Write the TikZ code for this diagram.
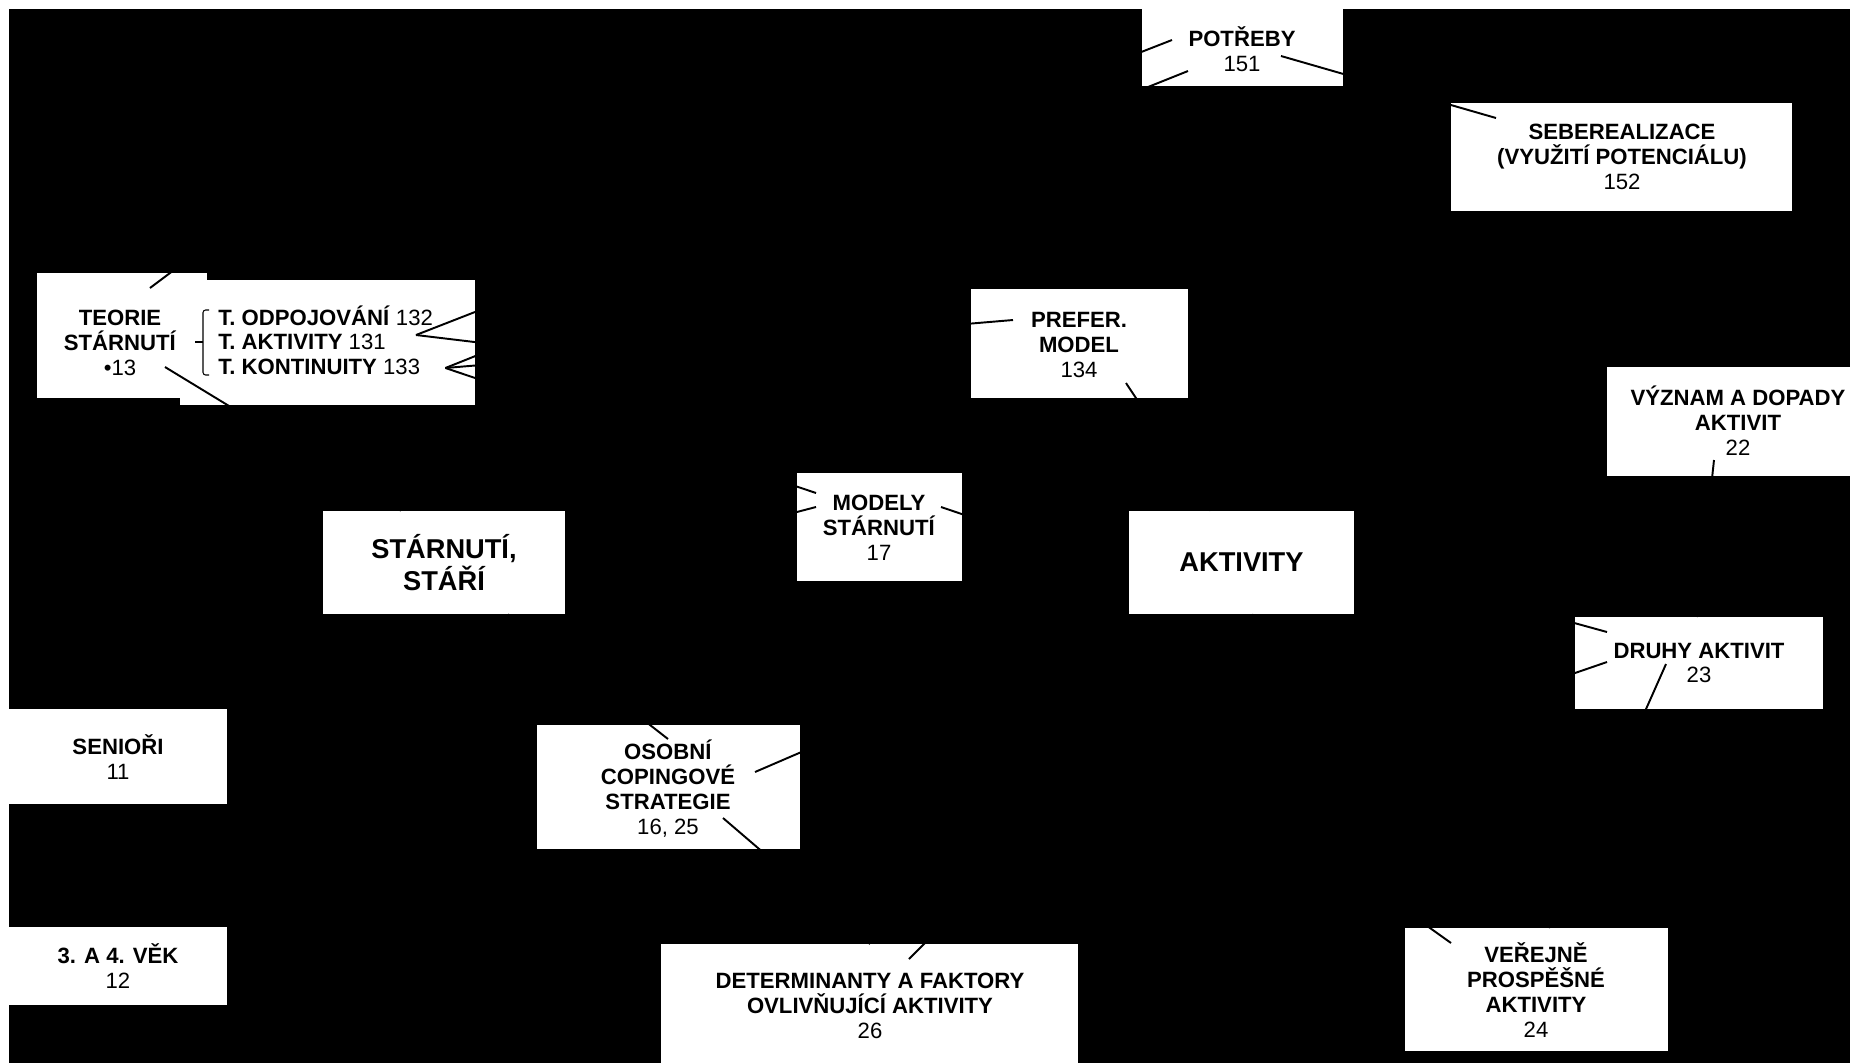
\documentclass[tikz,border=0pt]{standalone}
\usepackage{fontspec}
\setmainfont{Liberation Sans}
\newcommand\labelfont{\fontsize{12.6}{14.2}\selectfont}
\newcommand\hubfont{\fontsize{15.5}{18}\selectfont\bfseries}

\begin{document}
\begin{tikzpicture}[x=0.02cm, y=-0.02cm,
  box/.style={fill=white},
  lbl/.style={align=center, font=\labelfont, inner sep=0pt},
  row/.style={lbl, anchor=west, text height=9pt, text depth=0pt},
  hub/.style={fill=white, align=center, font=\hubfont, minimum height=2.06cm},
  link/.style={line width=1.1pt}]
  \useasboundingbox (0,0) rectangle (1850,1063);
  \fill[white] (0,0) rectangle (1850,1063);
  \fill[black] (9,9) rectangle (1850,1063);

  % white boxes behind the labels
  \fill[box] (1142,9) rectangle (1343,86);
  \fill[box] (1451,103) rectangle (1792,211);
  \fill[box] (37,273) rectangle (207,398);
  \fill[box] (180,280) rectangle (475,405);
  \fill[box] (971,289) rectangle (1188,398);
  \fill[box] (1607,367) rectangle (1850,476);
  \fill[box] (797,473) rectangle (962,581);
  \fill[box] (1575,617) rectangle (1823,709);
  \fill[box] (9,709) rectangle (227,804);
  \fill[box] (537,725) rectangle (800,849);
  \fill[box] (9,927) rectangle (227,1005);
  \fill[box] (661,944) rectangle (1078,1063);
  \fill[box] (1405,928) rectangle (1668,1051);

  % labels
  \node[lbl] (potreby) at (1242,49) {\textbf{POTŘEBY}\\151};
  \node[lbl] (seber) at (1622,157) {\textbf{SEBEREALIZACE}\\\textbf{(VYUŽITÍ POTENCIÁLU)}\\152};
  \node[lbl] (teorie) at (120,343) {\textbf{TEORIE}\\\textbf{STÁRNUTÍ}\\•13};
  \node[row] (todp) at (218,318) {\textbf{T. ODPOJOVÁNÍ} 132};
  \node[row] (takt) at (218,342) {\textbf{T. AKTIVITY} 131};
  \node[row] (tkont) at (218,367) {\textbf{T. KONTINUITY} 133};
  \node[lbl] (prefer) at (1079,345) {\textbf{PREFER.}\\\textbf{MODEL}\\134};
  \node[lbl] (vyznam) at (1738,421) {\textbf{VÝZNAM A DOPADY}\\\textbf{AKTIVIT}\\22};
  \node[lbl] (modely) at (879,528) {\textbf{MODELY}\\\textbf{STÁRNUTÍ}\\17};
  \node[lbl] (druhy) at (1699,663) {\textbf{DRUHY AKTIVIT}\\23};
  \node[lbl] (seniori) at (118,757) {\textbf{SENIOŘI}\\11};
  \node[lbl] (osobni) at (668,789) {\textbf{OSOBNÍ}\\\textbf{COPINGOVÉ}\\\textbf{STRATEGIE}\\16, 25};
  \node[lbl] (vek) at (118,966) {\textbf{3. A 4. VĚK}\\12};
  \node[lbl] (determ) at (870,1006) {\textbf{DETERMINANTY A FAKTORY}\\\textbf{OVLIVŇUJÍCÍ AKTIVITY}\\26};
  \node[lbl] (verejne) at (1536,990) {\textbf{VEŘEJNĚ}\\\textbf{PROSPĚŠNÉ}\\\textbf{AKTIVITY}\\24};

  % brace of the theories
  \draw[line width=0.6pt, rounded corners=1.5] (209,310) -- (203,310) -- (203,375) -- (209,375);
  \draw[line width=0.6pt] (203,342) -- (195,342);

  \node[hub, minimum width=4.84cm] (starnuti) at (444,562.5) {STÁRNUTÍ,\\STÁŘÍ};
  \node[hub, minimum width=4.5cm] (aktivity) at (1241.5,562.5) {AKTIVITY};

  % free ends
  \coordinate (taktOut) at (900,393);
  \coordinate (teorieOut) at (330,153);
  \coordinate (druhyOut) at (1287,772);
  \coordinate (verejneOut) at (1199,763);

  % connectors
  \draw[link] ([shift={(30,-7)}]takt.east) -- ([shift={(-70,-9)}]potreby.center);
  \draw[link] ([shift={(30,-7)}]takt.east) -- (taktOut);
  \draw[link] ([shift={(25,1)}]tkont.east) -- ([shift={(-54,22)}]potreby.center);
  \draw[link] ([shift={(25,1)}]tkont.east) -- ([shift={(-66,-25)}]prefer.center);
  \draw[link] ([shift={(25,1)}]tkont.east) -- ([shift={(-63,-35)}]modely.center);
  \draw[link] ([shift={(39,7)}]potreby.center) -- ([shift={(-126,-39)}]seber.center);
  \draw[link] ([shift={(30,-55)}]teorie.center) -- (teorieOut);
  \draw[link] ([shift={(45,24)}]teorie.center) -- ([shift={(-43,0)}]starnuti.north);
  \draw[link] ([shift={(-63,-21)}]modely.center) -- ([shift={(0,10)}]starnuti.east);
  \draw[link] ([shift={(62,-21)}]modely.center) -- ([shift={(0,8)}]aktivity.west);
  \draw[link] ([shift={(47,38)}]prefer.center) -- ([shift={(-31,0)}]aktivity.north);
  \draw[link] ([shift={(0,-50)}]osobni.center) -- ([shift={(64,0)}]starnuti.south);
  \draw[link] ([shift={(87,-17)}]osobni.center) -- (aktivity);
  \draw[link] ([shift={(55,29)}]osobni.center) -- ([shift={(0,-62)}]determ.center);
  \draw[link] ([shift={(39,-47)}]determ.center) -- ([shift={(12,0)}]aktivity.south);
  \draw[link] ([shift={(-92,-31)}]druhy.center) -- (aktivity.east);
  \draw[link] ([shift={(-92,-1)}]druhy.center) -- (druhyOut);
  \draw[link] ([shift={(-33,1)}]druhy.center) -- ([shift={(13,-62)}]verejne.center);
  \draw[link] ([shift={(-85,-47)}]verejne.center) -- (verejneOut);
  \draw[link] ([shift={(-24,39)}]vyznam.center) -- ([shift={(-2,-46)}]druhy.center);
\end{tikzpicture}
\end{document}
